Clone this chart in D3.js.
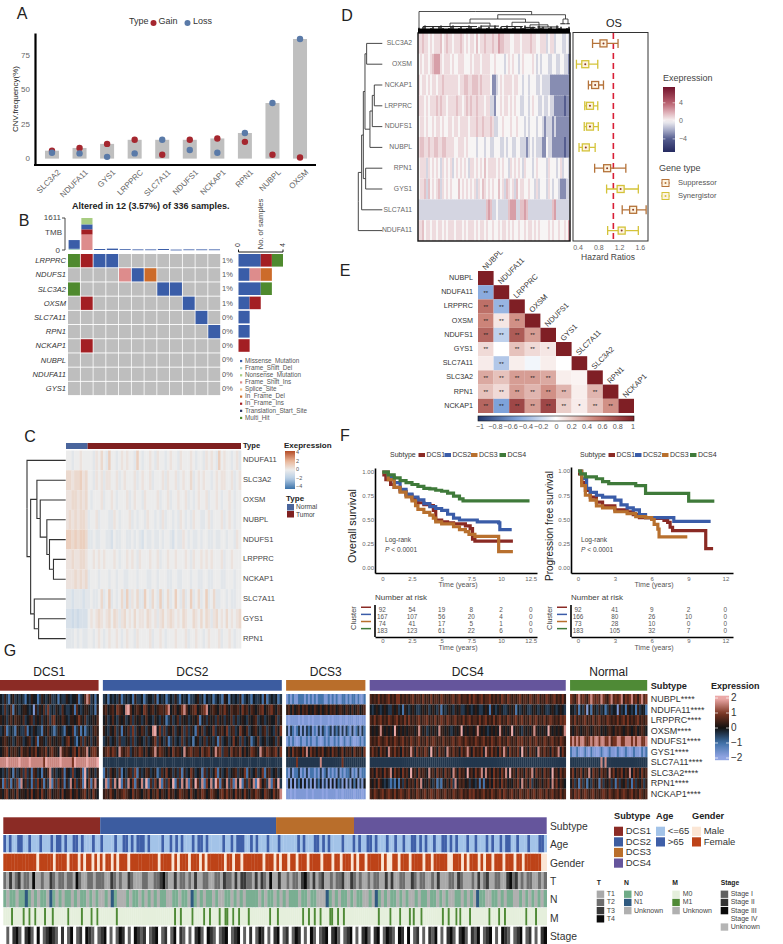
<!DOCTYPE html>
<html>
<head>
<meta charset="utf-8">
<script src="https://cdnjs.cloudflare.com/ajax/libs/d3/7.8.5/d3.min.js"></script>
<style>
  body { margin: 0; background: #fff; }
  svg { display: block; font-family: "Liberation Sans", Arial, sans-serif; }
  .tick line { display: none; }
</style>
</head>
<body>
<script>
// ---------- panel A
const cnvGenes = ["SLC3A2", "NDUFA11", "GYS1", "LRPPRC", "SLC7A11", "NDUFS1", "NCKAP1", "RPN1", "NUBPL", "OXSM"];
const cnvBars = [5, 7, 10, 13, 13, 13, 14, 18, 40, 87];
const cnvGain = [5, 7, 10, 13, 2, 13, 14, 11.5, 2, 0];
const cnvLoss = [3.5, 3, 0.5, 3, 13, 5.5, 3.5, 18, 40, 87];

// ---------- panel B
const oncoGenes = ["LRPPRC", "NDUFS1", "SLC3A2", "OXSM", "SLC7A11", "RPN1", "NCKAP1", "NUBPL", "NDUFA11", "GYS1"];
const oncoPct = ["1%", "1%", "1%", "1%", "0%", "0%", "0%", "0%", "0%", "0%"];
const oncoRows = ["HIMM........", "....FMO.....", "H......MM...", ".I.......M..", "..........M.",
  "...........M", ".I..........", "............", "............", "............"];
const mutCodes = ["M", "D", "N", "F", "S", "O", "I", "T", "H"];
const mutNames = ["Missense_Mutation", "Frame_Shift_Del", "Nonsense_Mutation", "Frame_Shift_Ins", "Splice_Site",
  "In_Frame_Del", "In_Frame_Ins", "Translation_Start_Site", "Multi_Hit"];
const mutColors = ["#3a5da8", "#a8cfc8", "#a8cd82", "#dd8c8c", "#f2c08a", "#cc6b2a", "#a31f23", "#2c3564", "#4f8a2e"];
const tmbStacks = [
  { D: 60, M: 440 }, { F: 780, I: 260, M: 250, N: 321 }, { M: 50 }, { M: 70 }, { M: 40 }, { M: 30 },
  { M: 30 }, { M: 50 }, { M: 20 }, { M: 30 }, { M: 30 }, { M: 30 }];

// ---------- panel C
const exprGenes = ["NDUFA11", "SLC3A2", "OXSM", "NUBPL", "NDUFS1", "LRPPRC", "NCKAP1", "SLC7A11", "GYS1", "RPN1"];
const exprNormal = ["44344544", "66566756", "55665656", "56565665", "77676776", "55655665", "55565656", "33233323", "22121222", "33343433"];
const exprTumor = [
  "443546437443454544374344543544345443544454344354543745443453",
  "443545355445345444534544534445354453454463454544345455445345",
  "434445344543444534544354444534453445445343454453445434454344",
  "344534443354344453434435443435344343543435443345344453454344",
  "334334433243344334343243343343443243354343343443343344344354",
  "445454544454344545435444544534454454445435445454544453445444",
  "344434443443443344434443344344433443344434433443344433444344",
  "343346347343463735463374364373463474363473463473463344343344",
  "454565456465356454645546545356456545465446546465356454645456",
  "443454345445434544354444534454344454445344544345444534454344"];
const exprTree = { h: 1, children: [{ name: "NDUFA11" }, { h: 0.906, children: [
  { h: 0.744, children: [{ name: "SLC3A2" }, { h: 0.658, children: [{ name: "OXSM" }, { h: 0.487, children: [{ name: "NUBPL" },
    { h: 0.419, children: [{ name: "NDUFS1" }, { h: 0.316, children: [{ name: "LRPPRC" }, { name: "NCKAP1" }] }] }] }] }] },
  { h: 0.812, children: [{ name: "SLC7A11" }, { h: 0.7, children: [{ name: "GYS1" }, { name: "RPN1" }] }] }] }] };

// ---------- panel D
const hrGenes = ["SLC3A2", "OXSM", "NCKAP1", "LRPPRC", "NDUFS1", "NUBPL", "RPN1", "GYS1", "SLC7A11", "NDUFA11"];
const hrMid = [0.89, 0.54, 0.73, 0.63, 0.63, 0.55, 0.96, 1.22, 1.46, 1.24];
const hrLow = [0.68, 0.37, 0.60, 0.53, 0.52, 0.42, 0.72, 0.95, 1.25, 0.97];
const hrHigh = [1.17, 0.78, 0.89, 0.78, 0.79, 0.73, 1.32, 1.56, 1.71, 1.56];
const hrType = ["S", "Y", "S", "Y", "Y", "Y", "S", "Y", "S", "Y"];
const hrLevels = [-5.5, -4, -2.8, -0.9, 0, 0.7, 1.4, 2.3, 3.5, 4.5];
const hrRows = [
  "5565545455564565545556545455464556555655766555445554555565544555345534443343",
  "4545545677754555454455544454555455554454444345454434544445434344433443344332",
  "5455454554556555555545566556665655554223454555545544344344433433332222222222",
  "5554545556565545555655456565565554553324454554545443344345443343343322222122",
  "4554544545545445545545555455565565556533445444544544434344434432333232222222",
  "5665565566556655554455545444434443443344433434433443332343433322433222222122",
  "4555354545435454534545454355454546455554545443545454354443454444354443453443",
  "4556364545635454544464545454535465454544645365453645544544353444354344322233",
  "3333333333333333333333333333333333676334333336777336676333333333333673333333",
  "5564554554554545554555454555454554544544545545454454454554545444454544544547"];
const hrTree = { h: 1, children: [{ name: "NDUFA11" }, { h: 0.861, children: [{ name: "SLC7A11" }, { h: 0.79, children: [
  { h: 0.722, children: [{ h: 0.653, children: [{ name: "SLC3A2" }, { name: "OXSM" }] },
    { h: 0.514, children: [{ h: 0.417, children: [{ h: 0.333, children: [{ name: "NCKAP1" }, { name: "LRPPRC" }] }, { name: "NDUFS1" }] }, { name: "NUBPL" }] }] },
  { h: 0.694, children: [{ name: "RPN1" }, { name: "GYS1" }] }] }] }] };
const hrColTree = { h: 1, children: [{ n: 1, h: 0.22 }, { h: 0.85, children: [
  { h: 0.65, children: [
    { h: 0.46, children: [{ n: 30, h: 0.3 }, { n: 10, h: 0.32 }] },
    { h: 0.5, children: [{ n: 12, h: 0.3 }, { h: 0.38, children: [{ n: 6, h: 0.26 }, { n: 12, h: 0.28 }] }] }] },
  { h: 0.65, children: [{ n: 3, h: 0.43 }, { n: 2, h: 0.43 }] }] }] };
const hrColBand = "4356234523564234563245234652345623453264253462345325462345236452345326452345";

// ---------- panel E
const corrGenes = ["NUBPL", "NDUFA11", "LRPPRC", "OXSM", "NDUFS1", "GYS1", "SLC7A11", "SLC3A2", "RPN1", "NCKAP1"];
const corrValues = [
  [1],
  [-0.45, 1],
  [0.6, -0.4, 1],
  [0.5, 0.1, 0.45, 1],
  [0.65, -0.25, 0.7, 0.4, 1],
  [0.15, 0, 0.25, 0.15, 0.1, 1],
  [0.08, -0.3, 0.07, -0.05, 0.07, 0, 1],
  [0.35, 0.25, 0.4, 0.4, 0.35, 0.07, 0.05, 1],
  [0.25, 0.15, 0.4, 0.3, 0.45, 0.3, 0.07, 0.3, 1],
  [0.65, -0.5, 0.8, 0.4, 0.8, 0.2, 0.08, 0.25, 0.45, 1]];
const corrStars = [
  [""],
  ["**", ""],
  ["**", "**", ""],
  ["**", "**", "**", ""],
  ["**", "**", "**", "**", ""],
  ["**", "", "**", "**", "*", ""],
  ["", "**", "", "", "", "", ""],
  ["**", "**", "**", "**", "**", "", "", ""],
  ["**", "**", "**", "**", "**", "**", "", "**", ""],
  ["**", "**", "**", "**", "**", "**", "*", "**", "**", ""]];
const corrTicks = [-1, -0.8, -0.6, -0.4, -0.2, 0, 0.2, 0.4, 0.6, 0.8, 1];

// ---------- panel F
const subtypes = ["DCS1", "DCS2", "DCS3", "DCS4"];
const osCurves = [
  [[0, 0.97], [0.3, 0.92], [0.7, 0.87], [1, 0.84], [1.5, 0.8], [2, 0.76], [2.5, 0.72], [3, 0.68], [3.5, 0.66], [4, 0.65], [4.3, 0.6], [4.5, 0.5], [5, 0.48], [5.5, 0.47], [6, 0.46], [7, 0.44], [7.4, 0.41], [7.6, 0.3], [7.8, 0.28], [11, 0.28]],
  [[0, 1], [0.5, 0.95], [1, 0.89], [1.5, 0.82], [2, 0.77], [2.5, 0.74], [3, 0.71], [3.5, 0.67], [4, 0.64], [4.5, 0.62], [5, 0.6], [5.5, 0.56], [6, 0.52], [6.5, 0.5], [7.5, 0.5], [8, 0.48], [9.8, 0.47], [9.9, 0.4], [10.9, 0.4]],
  [[0, 1], [0.5, 0.92], [1, 0.84], [1.5, 0.79], [2, 0.74], [2.5, 0.7], [2.8, 0.65], [3, 0.61], [3.5, 0.58], [4, 0.55], [4.3, 0.52], [4.5, 0.48], [5, 0.46], [6, 0.43], [6.5, 0.4], [7, 0.38], [7.3, 0.35], [7.8, 0.33], [9.7, 0.33], [9.8, 0.17], [11, 0.17]],
  [[0, 1], [0.5, 0.97], [1, 0.94], [1.5, 0.91], [2, 0.89], [2.5, 0.87], [3, 0.85], [3.5, 0.83], [4, 0.825], [4.5, 0.81], [5, 0.8], [5.5, 0.78], [6, 0.75], [6.5, 0.72], [6.8, 0.7], [12.4, 0.7]]];
const pfsCurves = [
  [[0, 0.97], [0.3, 0.88], [0.6, 0.8], [1, 0.73], [1.5, 0.68], [2, 0.64], [3, 0.6], [4, 0.58], [4.5, 0.55], [5, 0.52], [6, 0.51], [7, 0.49], [7.3, 0.47], [7.5, 0.42], [7.7, 0.385], [10.3, 0.385], [10.4, 0.2], [11, 0.2]],
  [[0, 1], [0.3, 0.92], [0.7, 0.82], [1, 0.78], [1.5, 0.75], [2, 0.73], [3, 0.7], [3.5, 0.65], [4, 0.62], [4.5, 0.6], [5, 0.55], [5.5, 0.52], [7.7, 0.52], [7.8, 0.48], [10.8, 0.48]],
  [[0, 1], [0.3, 0.85], [0.6, 0.75], [1, 0.7], [1.5, 0.64], [2, 0.62], [3, 0.58], [4, 0.56], [4.7, 0.53], [5.5, 0.52], [6, 0.5], [6.2, 0.45], [6.5, 0.4], [6.6, 0.32], [8.9, 0.32]],
  [[0, 1], [0.2, 0.97], [0.6, 0.94], [1.5, 0.92], [2, 0.89], [2.5, 0.87], [4, 0.87], [4.7, 0.85], [5.4, 0.85], [5.5, 0.77], [9, 0.77], [9.01, 0.69], [11.1, 0.69]]];
const osTicks = [0, 2.5, 5, 7.5, 10, 12.5];
const pfsTicks = [0, 3, 6, 9, 12];
const survTicks = [0, 0.25, 0.5, 0.75, 1];
const osRisk = [[92, 54, 19, 8, 2, 0], [167, 107, 56, 20, 4, 0], [74, 41, 17, 5, 1, 0], [183, 123, 61, 22, 6, 0]];
const pfsRisk = [[92, 41, 9, 2, 0], [166, 80, 26, 10, 0], [73, 28, 10, 0, 0], [183, 105, 32, 7, 0]];

// ---------- panel G
const gGroups = ["DCS1", "DCS2", "DCS3", "DCS4", "Normal"];
const gCounts = [92, 167, 74, 183, 72];
const gGenes = ["NUBPL", "NDUFA11", "LRPPRC", "OXSM", "NDUFS1", "GYS1", "SLC7A11", "SLC3A2", "RPN1", "NCKAP1"];
const gLevels = [-2.2, -1.8, -1.1, -0.4, -0.1, 0.3, 0.6, 0.95, 1.7, 2.2];
const gDcs1 = [
  "435324534343243544235434533424335434452346873424",
  "436346254345543415354637343543643345264345543425",
  "545356465546345635453546367454654355457546344546",
  "346234325433624354332546432354325446235242343565",
  "456545346553456346255435645455346745324636453546",
  "456746565475564657456574675548656546747566846775",
  "888988888988889888888798888889888887988888988889",
  "435364253463735265342546835344625437344629364535",
  "527362537284635263746253826374625384735629472684",
  "546745647455464745647546745564745574564567464754"];
const gDcs2 = [
  "34243435234342533423443524342343532434233453424342343254243435234324334252343423",
  "56456476548964565476456456657845645786456745678456546575465564756465456745675465",
  "45346435453463545346443543542353463545345462453545364535463534543545634534544635",
  "54354635254637354653548947363546354636354264635447355647356347546345643563543647",
  "34534536334536345435345736435235343635342453463543526345347453634523463453445364",
  "56757648656735657646456857654647565485675664756745867366475657464576548657656747",
  "33333333333333333333333333333333333333333333333333333333333333333333333333333333",
  "25364536243563725346534523647453536253475345263534725346345635472534634725634534",
  "38273849263847264839263748263749263848274963827483972648372849263748297463827493",
  "56575465676547565465746574654756457656475465764576546757564756475465765476547568"];
const gDcs3 = [
  "1212112221212121222112121211221212212112",
  "5646456465645465464564656456546546456456",
  "1011110101101011101110101110110111011011",
  "3132123131323121313212313231313213123132",
  "1212101211212112101212112120121121011212",
  "4647565475847564657456475645746564755647",
  "3333373333333333383333333333733333333333",
  "2131223121312212131231212131212231213122",
  "1414032414131403241314041423140314241314",
  "1101011111011011110101111011011111011101"];
const gDcs4 = [
  "6565756567565775656567566575657566576565675675665757656756675656576576565675665765675657656756575",
  "4345434543354534254345433454534543524345435453345434543345425434543345452434543345434543345434543",
  "6575675657656756575756567566756575676576567565756756657567565756756576567567565756756575676565767",
  "5454585454549545454555458545345454855454345459454554585454345454854545945543545458545454954545458",
  "6565765675657656756576567565756765657565675676576565765675657656756576565767565756756576567565765",
  "5756475648657564756586475657649564756486575647568647565748657564758647565749564756486575647568475",
  "3333333333333333333333333333333333333333333333333333333333333333333333333333333333333333333333333",
  "5647564756847564756495647565485647564756486475649564756848564756475849564756475684756475649564756",
  "5464754343232425364656475845464352325464738465645354352525464756475645465748564735456465748574654",
  "6576567567657567656756576567567657656756576567565767565675657656757656756576567567567657567565756"];
const gNormal = [
  "76578676578767687657867678576786757867",
  "44352435142543534235344153425434253442",
  "65756567565756756576565756757565675656",
  "54565455654565645456546565456545645654",
  "78787887678788788778677887788878788778",
  "21121012102110121012110210121012110212",
  "33333333333333383833333333333333333333",
  "57465746584756475648574657465847564756",
  "46352635243645263546352635463526354635",
  "65767567656756567657656756765675657656"];
const subtypeCounts = [92, 167, 74, 183];
const stripAge = "1010011001000100010110100110100010010000100110101110100001001010100010110100000100101110010100010001000000101000110101000010001010011010001001001001101010010011010100010010001010010110010001000110";
const stripGender = "11111111111101111101111011101011010101101011101111111111011110101110111010111111011011011111110111010110110111011110111011011101011011111010011011101111011011111001110101110101101110111011011111100";
const stripT = "21312312214112113212212214211221222113212113211122112234211312212131122112213221313322131321411311212213421312311212231132121121221131311221132122112131112213211121312311221134231212211212";
const stripN = "0u00u0010u0u00u10u0u00u0u00u0u0uu0u10uuu0u00u0u0u0u00uu00u00u10u0u00u0uu00u0u0u0000u0u00u0u0u000u00u00uuu10u0u00u0u00uu0u10u0u00u0u0uu0u00u00u0u0uu00u0u0u100uu00u0u00uu0u0u0u0u0";
const stripM = "0000100000100100100001000100000001000000100001001000000000100000000000000000000000000000100100000100000100100001001100100100001000000000010001000000000000100100100100001100100100000000000000000100000100001000010100010000000000100100010100001000000000100001001000000000010000100000";
const stripStage = "41423142314341232142413412432141234141324143212412341241342141423143214123412341424132414234124132414314123423141234142314234132143243412414213414231423142134123414321412341241423";

const colRed = "#a5272f", colBlue = "#5a7aa8";
const subtypeColors = ["#8b2b25", "#3c5ca0", "#b96e2b", "#65559c"];
const kmColors = ["#8a2a24", "#3a5ca8", "#b8702e", "#3f7a3a"];
const gColors = [...subtypeColors, "#4f8a36"];

const svg = d3.select("body").append("svg").attr("width", 783).attr("height", 944);

function label(parent, x, y, str, o = {}) {
  const t = parent.append("text").attr("x", x).attr("y", y).text(str)
    .attr("font-size", o.size || 7).attr("fill", o.fill || "#333")
    .attr("text-anchor", o.anchor || "start").attr("dominant-baseline", "middle");
  if (o.weight) t.attr("font-weight", o.weight);
  if (o.italic) t.attr("font-style", "italic");
  if (o.rotate !== undefined) t.attr("transform", `rotate(${o.rotate} ${x} ${y})`);
  return t;
}

function panelLetter(x, y, s) {
  label(svg, x, y, s, { size: 16, fill: "#222", anchor: "middle" });
}

function styleAxis(a, width, tickSize, tickFill) {
  a.select(".domain").attr("stroke", "#000").attr("stroke-width", width);
  a.selectAll("text").attr("font-size", tickSize).attr("fill", tickFill).attr("font-family", "inherit");
}

// one row of heat columns, the row string is one level digit per column
function heatRow(g, str, x0, width, y, h, color) {
  const x = d3.scaleBand().domain(d3.range(str.length)).range([x0, x0 + width]);
  g.append("g").selectAll("rect").data(str.split("")).join("rect")
    .attr("x", (d, i) => x(i)).attr("y", y).attr("width", x.bandwidth() + 0.3).attr("height", h)
    .attr("fill", (d) => color(d));
}

function gradient(id, color, lo, hi) {
  const grad = svg.append("linearGradient").attr("id", id)
    .attr("x1", 0).attr("x2", 0).attr("y1", 1).attr("y2", 0);
  d3.range(0, 1.001, 0.05).forEach((t) => {
    grad.append("stop").attr("offset", t).attr("stop-color", color(lo + (hi - lo) * t));
  });
}

// row dendrogram: node height -> x, leaf name -> y
function dendro(g, tree, xScale, yScale, stroke, width) {
  const root = d3.hierarchy(tree);
  root.eachAfter((n) => {
    if (n.children) {
      n.py = d3.mean(n.children, (c) => c.py);
      n.px = xScale(n.data.h);
    } else {
      n.py = yScale(n.data.name);
      n.px = xScale(0);
    }
  });
  g.append("g").attr("fill", "none").attr("stroke", stroke).attr("stroke-width", width)
    .selectAll("path").data(root.links()).join("path")
    .attr("d", (l) => `M${l.source.px},${l.source.py}V${l.target.py}H${l.target.px}`);
}

// ---------- A
function drawA() {
  const g = svg.append("g");
  panelLetter(22, 15, "A");
  label(g, 129, 22, "Type", { size: 9 });
  g.append("circle").attr("cx", 153.5).attr("cy", 23).attr("r", 3).attr("fill", colRed);
  label(g, 158.5, 22, "Gain", { size: 9 });
  g.append("circle").attr("cx", 187.5).attr("cy", 23).attr("r", 3).attr("fill", colBlue);
  label(g, 193, 22, "Loss", { size: 9 });

  const x = d3.scaleBand().domain(cnvGenes).range([38.2, 313.8]);
  const y = d3.scaleLinear().domain([-5.5, 91.4]).range([165, 33]);
  const c = (i) => x(cnvGenes[i]) + x.bandwidth() / 2;

  g.append("g").selectAll("rect").data(cnvBars).join("rect")
    .attr("x", (d, i) => c(i) - 7).attr("width", 14)
    .attr("y", (d) => y(d)).attr("height", (d) => y(-0.8) - y(d)).attr("fill", "#bfbfbf");
  g.append("g").selectAll("circle").data(cnvGain).join("circle")
    .attr("cx", (d, i) => c(i)).attr("cy", (d) => y(d)).attr("r", 3.2).attr("fill", colRed);
  g.append("g").selectAll("circle").data(cnvLoss).join("circle")
    .attr("cx", (d, i) => c(i)).attr("cy", (d) => y(d)).attr("r", 3.2).attr("fill", colBlue);

  const ya = g.append("g").attr("transform", "translate(35,0)")
    .call(d3.axisLeft(y).tickValues([0, 25, 50, 75]).tickSize(0).tickPadding(5).tickSizeOuter(0));
  styleAxis(ya, 2.2, 8, "#666");
  const xa = g.append("g").attr("transform", "translate(0,165)")
    .call(d3.axisBottom(x).tickSize(0).tickPadding(0).tickSizeOuter(0));
  xa.select(".domain").attr("d", "M34,0H316").attr("stroke", "#000").attr("stroke-width", 2.2);
  xa.selectAll("text").attr("font-size", 8).attr("fill", "#666").attr("text-anchor", "end")
    .attr("transform", "translate(6,5) rotate(-45)").attr("dy", "0.5em");
  label(g, 16, 99, "CNV.frequency(%)", { size: 8, rotate: -90, anchor: "middle", fill: "#222" });
}

// ---------- B
function drawB() {
  const g = svg.append("g");
  panelLetter(24, 222, "B");
  label(g, 72, 207, "Altered in 12 (3.57%) of 336 samples.", { size: 9, weight: "bold", fill: "#222" });

  const x = d3.scaleBand().domain(d3.range(12)).range([68, 221]);
  const y = d3.scaleBand().domain(oncoGenes).range([254, 396]);
  const mutColor = d3.scaleOrdinal(mutCodes, mutColors);

  g.append("g").selectAll("g").data(oncoRows).join("g").each(function (row, r) {
    d3.select(this).selectAll("rect").data(row.split("")).join("rect")
      .attr("x", (d, i) => x(i)).attr("y", y(oncoGenes[r]))
      .attr("width", x.bandwidth() - 0.8).attr("height", y.bandwidth() - 0.9)
      .attr("fill", (d) => (d === "." ? "#bebebe" : mutColor(d)));
  });
  oncoGenes.forEach((gene, i) => {
    label(g, 66, y(gene) + y.bandwidth() / 2, gene, { size: 7.6, italic: true, anchor: "end" });
    label(g, 222, y(gene) + y.bandwidth() / 2, oncoPct[i], { size: 7.5, fill: "#555" });
  });

  // TMB on top
  const tmb = d3.scaleLinear().domain([0, 1611]).range([250, 218]);
  const order = ["D", "F", "I", "M", "N"];
  tmbStacks.forEach((s, i) => {
    let acc = 0;
    order.forEach((k) => {
      if (!s[k]) return;
      g.append("rect").attr("x", x(i) + 0.6).attr("width", x.bandwidth() - 1.6)
        .attr("y", tmb(acc + s[k])).attr("height", Math.max(tmb(acc) - tmb(acc + s[k]), 0.8))
        .attr("fill", mutColor(k));
      acc += s[k];
    });
  });
  g.append("path").attr("d", `M62,${tmb(1611)}H65V${tmb(0)}H62`).attr("fill", "none").attr("stroke", "#333").attr("stroke-width", 0.9);
  label(g, 61, tmb(1611), "1611", { size: 8, anchor: "end", fill: "#444" });
  label(g, 62, 233, "TMB", { size: 8, anchor: "end", fill: "#444" });
  label(g, 60, tmb(0) + 1, "0", { size: 8, anchor: "end", fill: "#444" });

  // counts on the right
  const cx = d3.scaleLinear().domain([0, 4]).range([238.5, 283]);
  const barOrder = ["M", "F", "O", "I", "H"];
  oncoRows.forEach((row, r) => {
    let acc = 0;
    barOrder.forEach((k) => {
      const n = row.split(k).length - 1;
      if (!n) return;
      g.append("rect").attr("x", cx(acc)).attr("width", cx(acc + n) - cx(acc))
        .attr("y", y(oncoGenes[r])).attr("height", y.bandwidth() - 1.6).attr("fill", mutColor(k));
      acc += n;
    });
  });
  g.append("path").attr("d", `M${cx(0)},249.5V252H${cx(4)}V249.5`).attr("fill", "none").attr("stroke", "#000").attr("stroke-width", 0.9);
  label(g, cx(0), 245, "0", { size: 7, rotate: -90, anchor: "middle" });
  label(g, cx(4), 245, "4", { size: 7, rotate: -90, anchor: "middle" });
  label(g, 261, 224, "No. of samples", { size: 7.6, rotate: -90, anchor: "middle", fill: "#444" });

  // legend
  const ly = d3.scaleBand().domain(mutNames).range([357.5, 421.5]);
  mutNames.forEach((n, i) => {
    const yy = ly(n) + ly.bandwidth() / 2;
    g.append("rect").attr("x", 240).attr("y", yy - 1.1).attr("width", 2.2).attr("height", 2.2).attr("fill", mutColors[i]);
    label(g, 245, yy, n, { size: 6.3, fill: "#555" });
  });
}

// ---------- C
function drawC() {
  const g = svg.append("g");
  panelLetter(30, 438, "C");
  const c = d3.scaleLinear().domain([-4, -2, 0, 2, 4]).range(["#4f81b3", "#b6cde4", "#ececec", "#eab99c", "#bd5e3a"]);
  const lev = (d) => c((+d - 4) * 0.38);
  const y = d3.scaleBand().domain(exprGenes).range([450.5, 648.5]);
  const split = d3.scaleLinear().domain([0, 380]).range([66, 241]);
  g.append("rect").attr("x", split(0)).attr("y", 443).attr("width", split(47) - split(0)).attr("height", 6).attr("fill", "#4a659c");
  g.append("rect").attr("x", split(47)).attr("y", 443).attr("width", split(380) - split(47)).attr("height", 6).attr("fill", "#7f2020");
  exprGenes.forEach((gene, i) => {
    heatRow(g, exprNormal[i], split(0), split(47) - split(0), y(gene), y.bandwidth(), lev);
    heatRow(g, exprTumor[i], split(47), split(380) - split(47), y(gene), y.bandwidth(), lev);
    label(g, 243, y(gene) + y.bandwidth() / 2, gene, { size: 7.6, fill: "#444" });
  });
  label(g, 243, 446, "Type", { size: 7.6, weight: "bold", fill: "#222" });
  dendro(g, exprTree, d3.scaleLinear().domain([0, 1]).range([65.7, 27]),
    (n) => y(n) + y.bandwidth() / 2, "#333", 1.1);

  label(g, 284, 445.5, "Exepression", { size: 8, weight: "bold", fill: "#222" });
  gradient("gradC", c, -4.4, 4.4);
  g.append("rect").attr("x", 285).attr("y", 451).attr("width", 10).attr("height", 38).attr("fill", "url(#gradC)");
  [[4, 453], [2, 461.5], [0, 470], [-2, 478.5], [-4, 487]].forEach(([v, yy]) => {
    label(g, 296, yy, String(v).replace("-", "\u2212"), { size: 5.5, fill: "#555" });
  });
  label(g, 286, 499, "Type", { size: 8, weight: "bold", fill: "#222" });
  g.append("rect").attr("x", 287).attr("y", 504).attr("width", 7).attr("height", 6.5).attr("fill", "#4a659c");
  g.append("rect").attr("x", 287).attr("y", 511).attr("width", 7).attr("height", 6.5).attr("fill", "#7f2020");
  label(g, 296, 507, "Normal", { size: 6.6, fill: "#444" });
  label(g, 296, 515, "Tumor", { size: 6.6, fill: "#444" });
}

// ---------- D
function drawD() {
  const g = svg.append("g");
  panelLetter(347, 17, "D");
  const c = d3.scaleLinear().domain([-7, -4, -2, 0, 2, 4, 7])
    .range(["#23285e", "#555d8f", "#a9adc9", "#f7f5f5", "#dcaab2", "#b9606f", "#7b1d35"]);
  const lev = (d) => c(hrLevels[+d]);
  const y = d3.scaleBand().domain(hrGenes).range([33, 241]);
  const mid = (n) => y(n) + y.bandwidth() / 2;
  hrGenes.forEach((gene, i) => {
    heatRow(g, hrRows[i], 418, 152, y(gene), y.bandwidth(), lev);
    label(g, 412, mid(gene), gene, { size: 6.8, anchor: "end", fill: "#666" });
  });
  g.append("rect").attr("x", 418).attr("y", 33).attr("width", 152).attr("height", 208)
    .attr("fill", "none").attr("stroke", "#111").attr("stroke-width", 1.4);
  dendro(g, hrTree, d3.scaleLinear().domain([0, 1]).range([382.3, 358.3]), mid, "#333", 0.9);

  // column dendrogram: a few big branches, then the dense band
  const cx = d3.scaleLinear().domain([0, 76]).range([418, 570]);
  const cy = d3.scaleLinear().domain([0, 1]).range([33, 11.5]);
  const band = g.append("g").attr("stroke", "#000").attr("stroke-width", 1.3);
  hrColBand.split("").forEach((d, i) => {
    band.append("line").attr("x1", cx(i + 0.5)).attr("x2", cx(i + 0.5)).attr("y1", cy(0)).attr("y2", cy(+d * 0.058));
  });
  g.append("rect").attr("x", 418).attr("y", 28.5).attr("width", 152).attr("height", 4.5).attr("fill", "#000");
  const root = d3.hierarchy(hrColTree);
  let used = 0;
  root.eachAfter((n) => {
    if (n.children) n.px = d3.mean(n.children, (k) => k.px);
    else { n.px = cx(used + n.data.n / 2); used += n.data.n; }
  });
  g.append("g").attr("fill", "none").attr("stroke", "#222").attr("stroke-width", 0.8)
    .selectAll("path").data(root.links()).join("path")
    .attr("d", (l) => `M${l.source.px},${cy(l.source.data.h)}H${l.target.px}V${cy(l.target.data.h)}`);
  // spread of the low branches
  root.leaves().forEach((l) => {
    g.append("path").attr("d", `M${l.px - l.data.n * 0.9},${cy(l.data.h)}H${l.px + l.data.n * 0.9}`)
      .attr("stroke", "#222").attr("stroke-width", 1);
  });

  // forest
  const fx = d3.scaleLinear().domain([0.4, 1.6]).range([578, 640.4]);
  const typeColor = { S: "#b5733a", Y: "#d4c33a" };
  g.append("rect").attr("x", 573).attr("y", 32.5).attr("width", 75).attr("height", 208.5)
    .attr("fill", "#fff").attr("stroke", "#333").attr("stroke-width", 1);
  g.append("line").attr("x1", fx(1.08)).attr("x2", fx(1.08)).attr("y1", 33).attr("y2", 241)
    .attr("stroke", "#d81f36").attr("stroke-width", 1.6).attr("stroke-dasharray", "6 4");
  const f = g.append("g").attr("fill", "none").attr("stroke-width", 1.3);
  hrGenes.forEach((gene, i) => {
    const yy = mid(gene), col = typeColor[hrType[i]];
    f.append("path").attr("stroke", col)
      .attr("d", `M${fx(hrLow[i])},${yy - 4.5}V${yy + 4.5}M${fx(hrLow[i])},${yy}H${fx(hrHigh[i])}M${fx(hrHigh[i])},${yy - 4.5}V${yy + 4.5}`);
    f.append("rect").attr("x", fx(hrMid[i]) - 3.5).attr("y", yy - 3.5).attr("width", 7).attr("height", 7)
      .attr("stroke", col).attr("fill", "#fdf3e0");
    f.append("circle").attr("cx", fx(hrMid[i])).attr("cy", yy).attr("r", 1).attr("fill", "#8a3b2a").attr("stroke", "none");
  });
  [0.4, 0.8, 1.2, 1.6].forEach((v) => label(g, fx(v), 248, v.toFixed(1), { size: 7, anchor: "middle", fill: "#666" }));
  label(g, 608, 258, "Hazard Ratios", { size: 8.5, anchor: "middle", fill: "#444" });
  label(g, 614, 24.5, "OS", { size: 11, anchor: "middle", fill: "#222" });

  label(g, 663, 79, "Exepression", { size: 9, fill: "#444" });
  gradient("gradD", c, -6.9, 7.5);
  g.append("rect").attr("x", 663).attr("y", 87).attr("width", 12).attr("height", 65).attr("fill", "url(#gradD)");
  const barY = d3.scaleLinear().domain([-6.9, 7.5]).range([152, 87]);
  [4, 0, -4].forEach((v) => {
    label(g, 679, barY(v), String(v).replace("-", "\u2212"), { size: 7, fill: "#666" });
    g.append("path").attr("d", `M663,${barY(v)}h2.4M672.6,${barY(v)}h2.4`).attr("stroke", "#fff").attr("stroke-width", 0.6);
  });
  label(g, 659, 169, "Gene type", { size: 9, fill: "#444" });
  [["Suppressor", "S", 183], ["Synergistor", "Y", 196]].forEach(([n, k, yy]) => {
    const col = typeColor[k];
    g.append("path").attr("stroke", col).attr("stroke-width", 1).attr("d", `M661,${yy}H670`);
    g.append("rect").attr("x", 662).attr("y", yy - 3.5).attr("width", 7).attr("height", 7)
      .attr("stroke", col).attr("fill", "#fdf3e0");
    g.append("circle").attr("cx", 665.5).attr("cy", yy).attr("r", 1).attr("fill", col);
    label(g, 678, yy, n, { size: 7.6, fill: "#555" });
  });
}

// ---------- E
function drawE() {
  const g = svg.append("g");
  panelLetter(345, 272, "E");
  const c = d3.scaleLinear().domain([-1, -0.5, 0, 0.5, 1]).range(["#22386f", "#7ea2d9", "#ffffff", "#cc8479", "#7f1f25"]);
  const x = d3.scaleBand().domain(corrGenes).range([478, 634]);
  const y = d3.scaleBand().domain(corrGenes).range([271, 413]);
  corrValues.forEach((row, r) => {
    row.forEach((v, k) => {
      g.append("rect").attr("x", x(corrGenes[k])).attr("y", y(corrGenes[r]))
        .attr("width", x.bandwidth()).attr("height", y.bandwidth()).attr("fill", c(v));
      if (corrStars[r][k]) {
        label(g, x(corrGenes[k]) + x.bandwidth() / 2, y(corrGenes[r]) + y.bandwidth() / 2 + 0.8, corrStars[r][k],
          { size: 6, anchor: "middle", fill: "#222" });
      }
    });
    label(g, 473, y(corrGenes[r]) + y.bandwidth() / 2, corrGenes[r], { size: 7.2, anchor: "end", fill: "#333" });
    label(g, x(corrGenes[r]) + 6, y(corrGenes[r]) - 2, corrGenes[r], { size: 7.6, rotate: -45, fill: "#333" });
  });
  const grad = svg.append("linearGradient").attr("id", "gradE");
  d3.range(0, 1.001, 0.05).forEach((t) => grad.append("stop").attr("offset", t).attr("stop-color", c(-1 + 2 * t)));
  g.append("rect").attr("x", 478).attr("y", 416).attr("width", 156).attr("height", 5)
    .attr("fill", "url(#gradE)").attr("stroke", "#111").attr("stroke-width", 0.6);
  const b = d3.scaleLinear().domain([-1, 1]).range([480, 633]);
  corrTicks.forEach((v) => label(g, b(v), 427.5, String(v).replace("-", "\u2212"), { size: 7.2, anchor: "middle", fill: "#555" }));
}

// ---------- F
function drawKM(o) {
  const g = svg.append("g");
  const x = d3.scaleLinear().domain(o.xDomain).range([o.x0, o.x1]);
  const y = d3.scaleLinear().domain(o.yDomain).range([573, o.yTop]);
  const line = d3.line().x((d) => x(d[0])).y((d) => y(d[1])).curve(d3.curveStepAfter);
  g.append("g").selectAll("path").data(o.curves).join("path")
    .attr("d", line).attr("fill", "none").attr("stroke-width", 3.2)
    .attr("stroke", (d, i) => kmColors[i]);

  const xa = g.append("g").attr("transform", "translate(0,573)")
    .call(d3.axisBottom(x).tickValues(o.ticks).tickFormat((d) => d).tickSize(0).tickPadding(4).tickSizeOuter(0));
  styleAxis(xa, 1.6, 6, "#666");
  const ya = g.append("g").attr("transform", `translate(${o.x0},0)`)
    .call(d3.axisLeft(y).tickValues(survTicks).tickFormat(d3.format(".2f")).tickSize(0).tickPadding(1).tickSizeOuter(0));
  styleAxis(ya, 1.6, 6, "#666");

  label(g, o.titleX, 526, o.title, { size: o.titleSize, rotate: -90, anchor: "middle", fill: "#222" });
  label(g, o.timeX, 585.5, "Time (years)", { size: 7, anchor: "middle", fill: "#555" });
  label(g, o.x0 + 10, 540, "Log-rank", { size: 6.6, fill: "#444" });
  const p = label(g, o.x0 + 10, 549.5, "", { size: 6.6, fill: "#444" });
  p.append("tspan").text("P").attr("font-style", "italic");
  p.append("tspan").text(" < 0.0001");

  // legend above
  label(g, o.legendX, 455, "Subtype", { size: 7, fill: "#333" });
  subtypes.forEach((s, i) => {
    g.append("rect").attr("x", o.swatch[i]).attr("y", 453).attr("width", 6.5).attr("height", 4).attr("fill", kmColors[i]);
    label(g, o.swatch[i] + 8, 455, s, { size: 7, fill: "#333" });
  });

  // risk table
  label(g, o.x0, 598, "Number at risk", { size: 8, fill: "#444" });
  const ry = d3.scaleBand().domain(subtypes).range([606.5, 635]);
  o.risk.forEach((row, r) => {
    const yy = ry(subtypes[r]) + ry.bandwidth() / 2;
    row.forEach((n, k) => label(g, x(o.ticks[k]), yy, n, { size: 6.4, anchor: "middle", fill: "#555" }));
    g.append("line").attr("x1", o.x0 - 14).attr("x2", o.x0 - 4).attr("y1", yy - 2.8).attr("y2", yy - 2.8)
      .attr("stroke", kmColors[r]).attr("stroke-width", 1.5);
  });
  const xr = g.append("g").attr("transform", "translate(0,637)")
    .call(d3.axisBottom(x).tickValues(o.ticks).tickFormat((d) => d).tickSize(0).tickPadding(1.5).tickSizeOuter(0));
  styleAxis(xr, 1.6, 6, "#666");
  g.append("line").attr("x1", o.x0).attr("x2", o.x0).attr("y1", 605).attr("y2", 637).attr("stroke", "#000").attr("stroke-width", 1.6);
  label(g, o.timeX, 648.5, "Time (years)", { size: 7, anchor: "middle", fill: "#555" });
  label(g, o.x0 - 21, 618, "Cluster", { size: 7.5, rotate: -90, anchor: "middle", fill: "#444" });
}

function drawF() {
  panelLetter(345, 437, "F");
  drawKM({ x0: 375, x1: 537, yTop: 468, xDomain: [-0.615, 13.03], yDomain: [-0.052, 1.042], curves: osCurves, ticks: osTicks,
    title: "Overall survival", titleSize: 10.8, titleX: 353, timeX: 458, legendX: 390, swatch: [418.5, 444.5, 471, 499.5], risk: osRisk });
  drawKM({ x0: 571, x1: 733, yTop: 467, xDomain: [-0.57, 12.62], yDomain: [-0.0515, 1.041], curves: pfsCurves, ticks: pfsTicks,
    title: "Progression free survival", titleSize: 10, titleX: 550, timeX: 654, legendX: 580, swatch: [608.5, 635, 662, 690], risk: pfsRisk });
}

// ---------- G
function drawG() {
  const g = svg.append("g");
  panelLetter(10, 652, "G");
  const c = d3.scaleLinear().domain([-2, -1, 0, 1, 2]).range(["#90a4e2", "#3d6fa6", "#111111", "#7b3522", "#eca9a8"]).clamp(true);
  const lev = (d) => c(gLevels[+d]);
  const k = d3.scaleLinear().domain([0, d3.sum(gCounts)]).range([0, 630]);
  const y = d3.scaleBand().domain(gGenes).range([694, 799.3]);
  const groupRows = [gDcs1, gDcs2, gDcs3, gDcs4, gNormal];
  let left = 0;
  gGroups.forEach((name, i) => {
    const w = k(gCounts[i]);
    g.append("rect").attr("x", left).attr("y", 680).attr("width", w).attr("height", 10.7).attr("fill", gColors[i]);
    label(g, left + w / 2, 673, name, { size: 12, anchor: "middle", fill: "#222" });
    gGenes.forEach((gene, r) => heatRow(g, groupRows[i][r], left, w, y(gene), y.bandwidth(), lev));
    left += w + 4.3;
  });
  label(g, 650.7, 687, "Subtype", { size: 9.2, weight: "bold", fill: "#222" });
  gGenes.forEach((gene) => label(g, 650.7, y(gene) + y.bandwidth() / 2 + 0.5, gene + "****", { size: 9, fill: "#333" }));
  label(g, 711, 687, "Expression", { size: 9, weight: "bold", fill: "#222" });
  gradient("gradG", c, -2.2, 2.2);
  g.append("rect").attr("x", 715).attr("y", 695.7).attr("width", 14).attr("height", 64.5).attr("fill", "url(#gradG)");
  const b = d3.scaleLinear().domain([-2, 2]).range([758, 698]);
  [2, 1, 0, -1, -2].forEach((v) => {
    label(g, 731, b(v), String(v).replace("-", "\u2212"), { size: 10, fill: "#333" });
    g.append("path").attr("d", `M715,${b(v)}h3M726,${b(v)}h3`).attr("stroke", "#fff").attr("stroke-width", 0.7);
  });

  // clinical strips
  const stripX = d3.scaleLinear().domain([0, d3.sum(subtypeCounts)]).range([3.3, 546.7]);
  let acc = 0;
  subtypeCounts.forEach((n, i) => {
    g.append("rect").attr("x", stripX(acc)).attr("y", 817.3).attr("width", stripX(acc + n) - stripX(acc)).attr("height", 16.7).attr("fill", subtypeColors[i]);
    acc += n;
  });
  const strips = [
    { data: stripAge, y: 835, map: { 0: "#a3c3e8", 1: "#3f5fa8" } },
    { data: stripGender, y: 853.7, map: { 0: "#fbe6d5", 1: "#bd4318" } },
    { data: stripT, y: 872, map: { 1: "#a9a9a9", 2: "#6e6e6e", 3: "#3a3a3a", 4: "#0b0b0b" } },
    { data: stripN, y: 890, map: { 0: "#7aae92", 1: "#2f5a80", u: "#b0b0b0" } },
    { data: stripM, y: 908, map: { 0: "#e5efdc", 1: "#4f8a36", u: "#b0b0b0" } },
    { data: stripStage, y: 926.7, map: { 1: "#606060", 2: "#333333", 3: "#0a0a0a", 4: "#ffffff", u: "#b5b5b5" } }];
  strips.forEach((s) => heatRow(g, s.data, 3.3, 543.4, s.y, 17.3, (d) => s.map[d]));
  [["Subtype", 827], ["Age", 845.7], ["Gender", 864], ["T", 882], ["N", 900.7], ["M", 919], ["Stage", 937]].forEach(([n, yy]) => {
    label(g, 550, yy, n, { size: 10.3, fill: "#333" });
  });

  // big legends
  const big = (x, title, names, cols) => {
    label(g, x, 817, title, { size: 9.2, weight: "bold", fill: "#222" });
    names.forEach((n, i) => {
      g.append("rect").attr("x", x).attr("y", 826.7 + i * 10.6).attr("width", 9).attr("height", 9.2).attr("fill", cols[i]);
      label(g, x + 11.7, 831.5 + i * 10.6, n, { size: 9.5, fill: "#333" });
    });
  };
  big(614, "Subtype", subtypes, subtypeColors);
  big(656, "Age", ["<=65", ">65"], ["#a3c3e8", "#3f5fa8"]);
  big(692, "Gender", ["Male", "Female"], ["#fbe6d5", "#bd4318"]);

  const small = (x, gap, title, names, cols) => {
    label(g, x, 883.5, title, { size: 6.8, weight: "bold", fill: "#222" });
    names.forEach((n, i) => {
      g.append("rect").attr("x", x).attr("y", 890.6 + i * 8.2).attr("width", 7.5).attr("height", 7.3).attr("fill", cols[i]);
      label(g, x + gap, 894.4 + i * 8.2, n, { size: 7, fill: "#444" });
    });
  };
  small(596.7, 10, "T", ["T1", "T2", "T3", "T4"], ["#a9a9a9", "#6e6e6e", "#3a3a3a", "#0b0b0b"]);
  small(624, 10, "N", ["N0", "N1", "Unknown"], ["#6fab87", "#2f5a80", "#b0b0b0"]);
  small(672.3, 10.4, "M", ["M0", "M1", "Unknown"], ["#e5efdc", "#4f8a36", "#b0b0b0"]);
  small(720.7, 10, "Stage", ["Stage I", "Stage II", "Stage III", "Stage IV", "Unknown"], ["#606060", "#333333", "#0a0a0a", "#ffffff", "#b5b5b5"]);
}

drawA();
drawB();
drawC();
drawD();
drawE();
drawF();
drawG();
</script>
</body>
</html>
